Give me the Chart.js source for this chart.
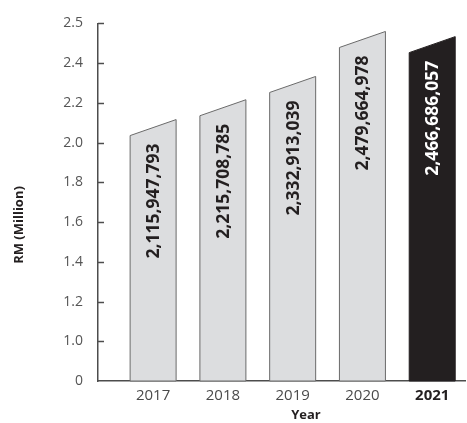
<!DOCTYPE html>
<html>
<head>
<meta charset="utf-8">
<script src="https://cdn.jsdelivr.net/npm/chart.js@4/dist/chart.umd.min.js"></script>
<style>
  html, body { margin: 0; padding: 0; background: #ffffff; }
  #wrap { width: 467px; height: 423px; position: relative; }
</style>
</head>
<body>
<div id="wrap"><canvas id="c"></canvas></div>
<script>
// ---- data ----
const years = ['2017', '2018', '2019', '2020', '2021'];
const amounts = [2115947793, 2215708785, 2332913039, 2479664978, 2466686057];
const yTickValues = [0, 1.0, 1.2, 1.4, 1.6, 1.8, 2.0, 2.2, 2.4, 2.5];
const yTickLabels = ['0', '1.0', '1.2', '1.4', '1.6', '1.8', '2.0', '2.2', '2.4', '2.5'];
const yTitle = 'RM (Million)';
const xTitle = 'Year';
const highlightIndex = 4;

// ---- piecewise y scale: listed tick values are evenly spaced ----
class PiecewiseScale extends Chart.LinearScale {
  buildTicks() {
    return yTickValues.map(v => ({ value: v }));
  }
  getPixelForValue(value) {
    const b = yTickValues, n = b.length - 1;
    let i = 0;
    while (i < n - 1 && value > b[i + 1]) i++;
    const frac = i + (value - b[i]) / (b[i + 1] - b[i]);
    return this.getPixelForDecimal(frac / n);
  }
  getValueForPixel(pixel) {
    const b = yTickValues, n = b.length - 1;
    const d = this.getDecimalForPixel(pixel) * n;
    const i = Math.max(0, Math.min(n - 1, Math.floor(d)));
    return b[i] + (d - i) * (b[i + 1] - b[i]);
  }
}
PiecewiseScale.id = 'piecewise';
PiecewiseScale.defaults = Chart.LinearScale.defaults;
Chart.register(PiecewiseScale);

const FONT = "'Open Sans', 'Noto Sans', sans-serif";
const SLANT = 16;
const fmt = new Intl.NumberFormat('en-US');

const slantBars = {
  id: 'slantBars',
  afterDatasetsDraw(chart) {
    const ctx = chart.ctx;
    const meta = chart.getDatasetMeta(0);
    meta.data.forEach((bar, i) => {
      const p = bar.getProps(['x', 'y', 'base', 'width'], true);
      const l = p.x - p.width / 2, r = p.x + p.width / 2;
      const hi = i === highlightIndex;
      ctx.save();
      ctx.beginPath();
      ctx.moveTo(l, p.base);
      ctx.lineTo(l, p.y + SLANT);
      ctx.lineTo(r, p.y);
      ctx.lineTo(r, p.base);
      ctx.closePath();
      ctx.fillStyle = hi ? '#231f20' : '#dcdddf';
      ctx.fill();
      ctx.lineWidth = 1;
      ctx.strokeStyle = hi ? '#231f20' : '#6a6a6a';
      ctx.stroke();
      // value label
      ctx.translate(p.x, p.y + SLANT + 8);
      ctx.rotate(-Math.PI / 2);
      ctx.font = "bold 17.5px " + FONT;
      ctx.textAlign = 'right';
      ctx.textBaseline = 'middle';
      ctx.fillStyle = hi ? '#ffffff' : '#231f20';
      ctx.fillText(fmt.format(amounts[i]), 0, 1);
      ctx.restore();
    });
  },
  afterDraw(chart) {
    const ctx = chart.ctx;
    const ys = chart.scales.y;
    const area = chart.chartArea;
    ctx.save();
    // inward tick marks on the y axis
    ctx.strokeStyle = '#4d4d4d';
    ctx.lineWidth = 1.5;
    ys.ticks.forEach((t, i) => {
      if (i === 0) return;
      const py = Math.round(ys.getPixelForTick(i)) + 0.5;
      ctx.beginPath();
      ctx.moveTo(area.left, py);
      ctx.lineTo(area.left + 6, py);
      ctx.stroke();
    });
    // axis titles
    ctx.fillStyle = '#231f20';
    ctx.font = "bold 13px " + FONT;
    ctx.textAlign = 'center';
    ctx.textBaseline = 'middle';
    ctx.fillText(xTitle, 306, 415);
    ctx.translate(19, 225);
    ctx.rotate(-Math.PI / 2);
    ctx.fillText(yTitle, 0, 0);
    ctx.restore();
  }
};

new Chart(document.getElementById('c'), {
  type: 'bar',
  data: {
    datasets: [{
      data: amounts.map((a, i) => ({ x: i, y: a / 1e9 })),
      backgroundColor: 'rgba(0,0,0,0)',
      borderWidth: 0,
      barThickness: 46
    }]
  },
  options: {
    responsive: true,
    maintainAspectRatio: false,
    animation: false,
    events: [],
    layout: { padding: { left: 0, top: 22, right: 2, bottom: 0 } },
    plugins: { legend: { display: false }, tooltip: { enabled: false } },
    scales: {
      x: {
        type: 'linear',
        offset: false,
        min: -0.79,
        max: 4.47,
        afterBuildTicks: s => { s.ticks = years.map((_, i) => ({ value: i })); },
        afterFit: s => { s.height = 42; },
        grid: { display: false, drawTicks: false, offset: false },
        border: { display: true, color: '#4d4d4d', width: 1.5 },
        ticks: {
          padding: 6,
          autoSkip: false,
          maxRotation: 0,
          callback: v => years[v],
          color: c => c.index === highlightIndex ? '#231f20' : '#4a4a4a',
          font: c => ({ family: FONT, size: 15, weight: c.index === highlightIndex ? 'bold' : 'normal' })
        }
      },
      y: {
        type: 'piecewise',
        min: 0,
        max: 2.5,
        afterFit: s => { s.width = 98; },
        grid: { display: false, drawTicks: false },
        border: { display: true, color: '#4d4d4d', width: 1.5 },
        ticks: {
          padding: 15,
          color: '#555555',
          font: { family: FONT, size: 14 },
          callback: (v, i) => yTickLabels[i]
        }
      }
    }
  },
  plugins: [slantBars]
});
</script>
</body>
</html>
